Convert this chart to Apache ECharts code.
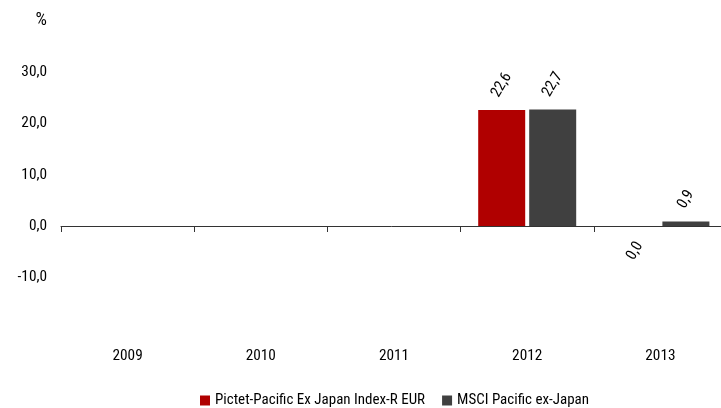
<!DOCTYPE html>
<html>
<head>
<meta charset="utf-8">
<script src="https://cdn.jsdelivr.net/npm/echarts@6/dist/echarts.min.js"></script>
<style>html,body{margin:0;padding:0;background:#fff}#c{width:721px;height:408px}</style>
</head>
<body>
<div id="c"></div>
<script>
var categories = ['2009', '2010', '2011', '2012', '2013'];
var seriesNames = ['Pictet-Pacific Ex Japan Index-R EUR', 'MSCI Pacific ex-Japan'];
var fundValues = [null, null, null, 22.6, 0.0];
var indexValues = [null, null, null, 22.7, 0.9];

var FONT = "'Roboto Condensed', 'DejaVu Sans Condensed', sans-serif";
var FS = 15.3;
function fmt(v) { return v.toFixed(1).replace('.', ','); }

function buildData(vals) {
  return vals.map(function (v) {
    if (v === null) return null;
    var item = { value: v };
    if (v === 0) item.label = { position: 'bottom', distance: 25, align: 'center', verticalAlign: 'middle' };
    else if (v < 10) item.label = { position: 'top', distance: 22, align: 'center', verticalAlign: 'middle' };
    return item;
  });
}

var labelCfg = {
  show: true, position: 'top', distance: 25, rotate: 60,
  align: 'center', verticalAlign: 'middle',
  fontFamily: FONT, fontSize: FS, color: '#000',
  formatter: function (p) { return fmt(p.value); }
};

var chart = echarts.init(document.getElementById('c'));
chart.setOption({
  animation: false,
  textStyle: { fontFamily: FONT },
  grid: { left: 61, width: 666, top: 20.8, bottom: 79.4, containLabel: false, outerBoundsMode: 'none' },
  legend: {
    left: 195, top: 388, icon: 'rect', itemWidth: 10, itemHeight: 10, itemGap: 17,
    textStyle: { fontFamily: FONT, fontSize: 15, color: '#000' },
    data: seriesNames
  },
  xAxis: [{
    type: 'category', data: categories, position: 'bottom',
    axisLine: { onZero: true, lineStyle: { color: '#333', width: 1 } },
    axisTick: { show: true, inside: false, length: 6, alignWithLabel: false, lineStyle: { color: '#333' } },
    axisLabel: { show: false }, splitLine: { show: false }
  }, {
    type: 'category', data: categories, position: 'bottom',
    axisLine: { show: false, onZero: false }, axisTick: { show: false },
    axisLabel: { show: true, margin: 20, fontFamily: FONT, fontSize: FS, color: '#000' }
  }],
  yAxis: {
    type: 'value', min: -20, max: 40, interval: 10,
    axisLine: { show: false }, axisTick: { show: false }, splitLine: { show: false },
    axisLabel: {
      margin: 14, fontFamily: FONT, fontSize: FS, color: '#000',
      formatter: function (v) { if (v === 40) return '{p|%}'; if (v === -20) return ''; return fmt(v); },
      rich: { p: { fontFamily: FONT, fontSize: 18, color: '#000' } }
    }
  },
  series: [{
    name: seriesNames[0], type: 'bar', xAxisIndex: 0, barWidth: 47, barGap: '8.5%',
    itemStyle: { color: '#b00000' }, label: labelCfg, data: buildData(fundValues)
  }, {
    name: seriesNames[1], type: 'bar', xAxisIndex: 0, barWidth: 47, barGap: '8.5%',
    itemStyle: { color: '#404040' }, label: labelCfg, data: buildData(indexValues)
  }]
});
</script>
</body>
</html>
